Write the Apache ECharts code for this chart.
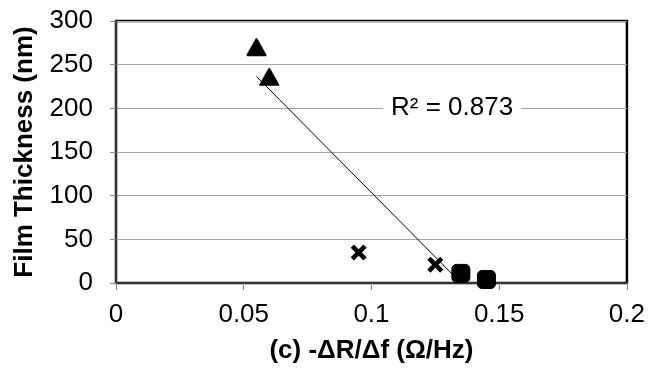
<!DOCTYPE html>
<html><head><meta charset="utf-8">
<script src="https://cdn.jsdelivr.net/npm/echarts@6/dist/echarts.min.js"></script>
<style>html,body{margin:0;padding:0;background:#fff}#c{width:648px;height:369px}</style>
</head><body><div id="c"></div>
<script>
// ---- data ----
const xTicks = [0, 0.05, 0.1, 0.15, 0.2];
const yTicks = [0, 50, 100, 150, 200, 250, 300];
const triX = [0.055, 0.06];
const triY = [270, 236];
const crossX = [0.095, 0.125];
const crossY = [35, 21];
const sqX = [0.135, 0.145];
const sqY = [11, 4];
const r2Label = 'R² = 0.873';
const xTitle = '(c) -ΔR/Δf (Ω/Hz)';
const yTitle = 'Film Thickness (nm)';

// ---- linear trendline over all points (least squares) ----
const allX = triX.concat(crossX, sqX);
const allY = triY.concat(crossY, sqY);
const n = allX.length;
const mx = allX.reduce((a, b) => a + b, 0) / n;
const my = allY.reduce((a, b) => a + b, 0) / n;
let sxx = 0, sxy = 0;
for (let i = 0; i < n; i++) { sxx += (allX[i] - mx) ** 2; sxy += (allX[i] - mx) * (allY[i] - my); }
const slope = sxy / sxx, icpt = my - slope * mx;
const xMin = Math.min(...allX), xMax = Math.max(...allX);
const trend = [[xMin, icpt + slope * xMin], [xMax, icpt + slope * xMax]];

const pair = (xs, ys) => xs.map((x, i) => [x, ys[i]]);
const FONT = "'Liberation Sans', Arial, sans-serif";
const crossPath = 'path://M0,2 L2,0 L5,3 L8,0 L10,2 L7,5 L10,8 L8,10 L5,7 L2,10 L0,8 L3,5 Z';

const chart = echarts.init(document.getElementById('c'), null, { renderer: 'canvas' });
chart.setOption({
  animation: false,
  backgroundColor: '#fff',
  grid: { left: 116, top: 21, right: 21, bottom: 86, show: true, borderColor: '#000', borderWidth: 2.5, backgroundColor: 'transparent' },
  xAxis: {
    type: 'value', min: xTicks[0], max: xTicks[xTicks.length - 1], interval: 0.05,
    name: xTitle, nameLocation: 'middle', nameGap: 55,
    nameTextStyle: { fontFamily: FONT, fontSize: 26, fontWeight: 'bold', color: '#000' },
    axisLine: { show: true, onZero: false, lineStyle: { color: '#333', width: 2 } },
    axisTick: { show: true, length: 7, lineStyle: { color: '#888' } },
    axisLabel: { fontFamily: FONT, fontSize: 26, color: '#000', margin: 19,
      formatter: v => { const t = xTicks.find(k => Math.abs(k - v) < 1e-9); return t === undefined ? '' : String(t); } },
    splitLine: { show: false }
  },
  yAxis: {
    type: 'value', min: yTicks[0], max: yTicks[yTicks.length - 1], interval: 50,
    name: yTitle, nameLocation: 'middle', nameGap: 78, nameRotate: 90,
    nameTextStyle: { fontFamily: FONT, fontSize: 26, fontWeight: 'bold', color: '#000' },
    axisLine: { show: true, onZero: false, lineStyle: { color: '#333', width: 2 } },
    axisTick: { show: true, length: 6, lineStyle: { color: '#888' } },
    axisLabel: { fontFamily: FONT, fontSize: 26, color: '#000', margin: 23 },
    splitLine: { show: true, lineStyle: { color: '#a6a6a6', width: 1 } }
  },
  series: [
    { type: 'line', data: trend, symbol: 'none', clip: true, z: 1,
      lineStyle: { color: '#000', width: 1 } },
    { type: 'scatter', data: pair(triX, triY), symbol: 'triangle', symbolSize: [18, 16], z: 3,
      itemStyle: { color: '#000', opacity: 1, borderColor: '#000', borderWidth: 2, borderJoin: 'round' } },
    { type: 'scatter', data: pair(crossX, crossY), symbol: crossPath, symbolSize: 16, z: 3,
      itemStyle: { color: '#000', opacity: 1 } },
    { type: 'scatter', data: pair(sqX, sqY), symbol: 'roundRect', symbolSize: 18, z: 3,
      itemStyle: { color: '#000', opacity: 1, borderColor: '#000', borderWidth: 1 } }
  ],
  graphic: [{
    type: 'text', left: 383, top: 93, z: 10,
    style: { text: r2Label, fontFamily: FONT, fontSize: 26, fill: '#000',
      backgroundColor: '#fff', padding: [2, 8, 2, 8] }
  }]
});
</script>
</body></html>
